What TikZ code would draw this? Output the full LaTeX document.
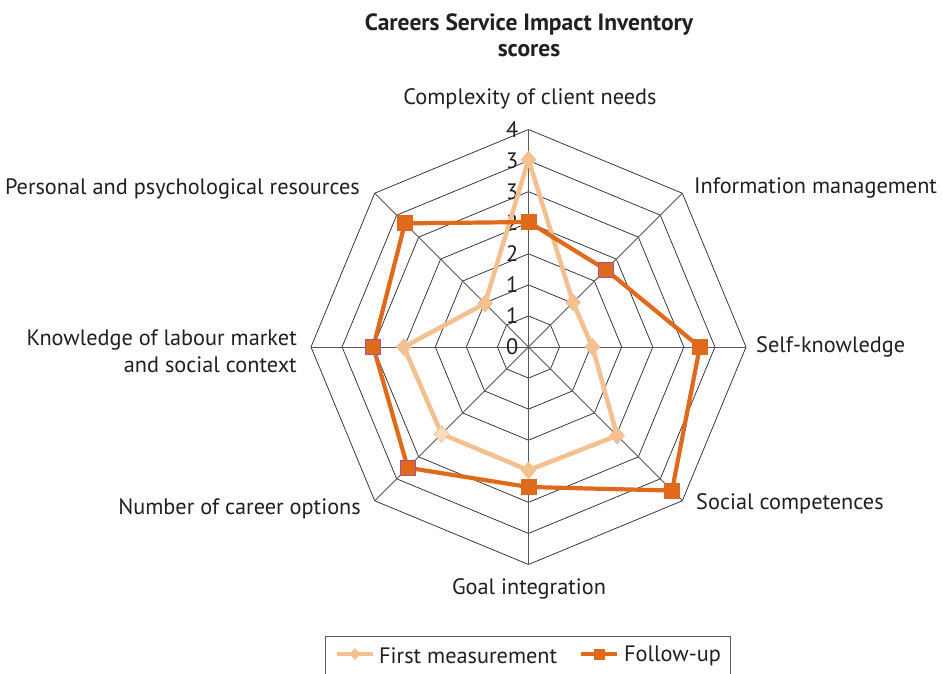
\documentclass[tikz,border=0pt]{standalone}
\usepackage{fontspec}
\setmainfont{PT Sans}
\usetikzlibrary{shapes.geometric}
\definecolor{lightor}{HTML}{F4C090}
\definecolor{lightorpale}{HTML}{F9DCC0}
\definecolor{darkor}{HTML}{E06A1B}
\definecolor{mkedge}{HTML}{A0559A}
\definecolor{txt}{HTML}{231F20}
\definecolor{gridc}{HTML}{303030}
\definecolor{legc}{HTML}{5A5A5A}
\begin{document}
\begin{tikzpicture}[x=1pt,y=1pt,
  gridline/.style={draw=gridc, line width=0.75pt},
  spoke/.style={draw=gridc!80, line width=0.9pt},
  firstline/.style={draw=lightor, line width=4.5pt, line join=round},
  followline/.style={draw=darkor, line width=4.2pt, line join=miter},
  diamondmark/.style={diamond, fill=lightor, draw=lightor, line width=0.6pt, inner sep=0pt, minimum width=15pt, minimum height=17pt},
  squaremark/.style={rectangle, fill=darkor, draw=darkor, line width=0.8pt, inner sep=0pt, minimum size=15pt},
  edgemark/.style={squaremark, draw=mkedge, line width=1.2pt},
  axislabel/.style={text=txt, font=\fontsize{22.3}{27}\selectfont, inner sep=0pt, yshift=-2pt},
  ticklabel/.style={text=txt, font=\fontsize{22.3}{27}\selectfont, inner sep=0pt, anchor=east},
  legtext/.style={text=txt, font=\fontsize{22.3}{27}\selectfont, inner sep=0pt, anchor=west, yshift=-1.5pt}
]
\useasboundingbox (0,-674) rectangle (942,0);
\fill[white] (0,-674) rectangle (942,0);

% title
\node[text=txt, font=\bfseries\fontsize{23.5}{26}\selectfont, align=center, inner sep=0pt] (title) at (529,-35) {Careers Service Impact Inventory\\scores};

\begin{scope}[shift={(528.5,-347)}]
  % rings
  \foreach \k in {1,...,7}{
    \pgfmathsetmacro{\r}{\k*31.07}
    \draw[gridline] (0:\r) -- (45:\r) -- (90:\r) -- (135:\r) -- (180:\r) -- (225:\r) -- (270:\r) -- (315:\r) -- cycle;
  }
  % spokes
  \coordinate (c0) at (0,0);
  \foreach \a/\n in {90/a1,45/a2,0/a3,-45/a4,-90/a5,-135/a6,180/a7,135/a8}{
    \coordinate (\n) at (\a:217.5);
    \draw[spoke] (c0) -- (\n);
  }
  % tick labels
  \foreach \k/\t in {0/0,1/1,2/1,3/2,4/2,5/3,6/3,7/4}{
    \node[ticklabel] (t\k) at (-10,\k*31.07) {\t};
  }
  % first measurement
  \coordinate (f1) at (90:187.4);
  \coordinate (f2) at (45:63);
  \coordinate (f3) at (0:64);
  \coordinate (f4) at (-45:125.3);
  \coordinate (f5) at (-90:123.3);
  \coordinate (f6) at (-135:123);
  \coordinate (f7) at (180:124.7);
  \coordinate (f8) at (135:61.5);
  % follow-up
  \coordinate (g1) at (90:125);
  \coordinate (g2) at (45:109.3);
  \coordinate (g3) at (0:171.3);
  \coordinate (g4) at (-45:203);
  \coordinate (g5) at (-90:140);
  \coordinate (g6) at (-135:170.8);
  \coordinate (g7) at (180:155.2);
  \coordinate (g8) at (135:174.8);

  \draw[firstline] (f1) -- (f2) -- (f3) -- (f4) -- (f5) -- (f6) -- (f7) -- (f8) -- cycle;
  \foreach \i in {1,2,3,4,5,7,8}{ \node[diamondmark] (fm\i) at (f\i) {}; }
  \node[diamondmark, fill=lightorpale] (fm6) at (f6) {};

  \draw[followline] (g1) -- (g2) -- (g3) -- (g4) -- (g5) -- (g6) -- (g7) -- (g8) -- cycle;
  \foreach \i in {1,3,4,5,8}{ \node[squaremark] (gm\i) at (g\i) {}; }
  \foreach \i in {2,6,7}{ \node[edgemark] (gm\i) at (g\i) {}; }
\end{scope}

% axis labels
\node[axislabel] (l1) at (530,-97) {Complexity of client needs};
\node[axislabel, anchor=west] (l2) at (694,-186) {Information management};
\node[axislabel, anchor=west] (l3) at (756,-345) {Self-knowledge};
\node[axislabel, anchor=west] (l4) at (696,-502) {Social competences};
\node[axislabel] (l5) at (529,-587) {Goal integration};
\node[axislabel, anchor=east] (l6) at (361,-507) {Number of career options};
\node[axislabel, anchor=east, align=right] (l7) at (297,-349) {Knowledge of labour market\\and social context};
\node[axislabel, anchor=east] (l8) at (360,-187) {Personal and psychological resources};

% legend
\draw[draw=legc, line width=0.9pt] (325,-678) -- (325,-636) -- (730,-636) -- (730,-678);
\coordinate (la) at (337,-654);
\coordinate (lb) at (373,-654);
\draw[firstline] (la) -- (lb);
\node[diamondmark, minimum width=10pt, minimum height=11pt] (ld) at (355,-654) {};
\node[legtext] (lt1) at (379,-654) {First measurement};
\coordinate (lc) at (581,-654);
\coordinate (ldd) at (617,-654);
\draw[followline] (lc) -- (ldd);
\node[squaremark, minimum size=10pt] (ls) at (599,-654) {};
\node[legtext] (lt2) at (624,-654) {Follow-up};
\end{tikzpicture}
\end{document}
